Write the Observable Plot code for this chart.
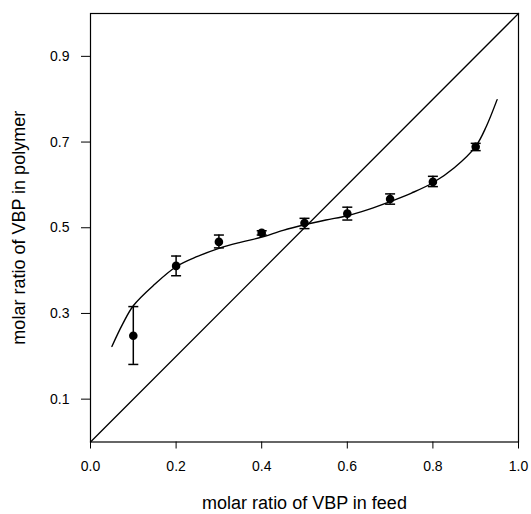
<!DOCTYPE html>
<html>
<head>
<meta charset="utf-8">
<script src="https://cdn.jsdelivr.net/npm/d3@7"></script>
<script src="https://cdn.jsdelivr.net/npm/@observablehq/plot@0.6"></script>
<style>
  html, body { margin: 0; padding: 0; background: #fff; }
</style>
</head>
<body>
<div id="chart"></div>
<script>
// Measured data
const feed     = [0.1, 0.2, 0.3, 0.4, 0.5, 0.6, 0.7, 0.8, 0.9];
const polymer  = [0.248, 0.411, 0.467, 0.488, 0.511, 0.533, 0.567, 0.607, 0.689];
const errLow   = [0.181, 0.388, 0.453, 0.483, 0.498, 0.518, 0.555, 0.596, 0.680];
const errHigh  = [0.316, 0.434, 0.483, 0.493, 0.522, 0.548, 0.579, 0.620, 0.697];

// Fitted curve
const fitFeed    = [0.05, 0.075, 0.10, 0.15, 0.20, 0.25, 0.30, 0.35, 0.40, 0.45, 0.50, 0.55, 0.60, 0.65, 0.70, 0.75, 0.80, 0.85, 0.90, 0.925, 0.95];
const fitPolymer = [0.223, 0.275, 0.318, 0.368, 0.409, 0.433, 0.452, 0.466, 0.478, 0.494, 0.507, 0.518, 0.528, 0.543, 0.561, 0.581, 0.605, 0.640, 0.690, 0.737, 0.799];

// Diagonal (y = x)
const diagonal = [0, 1];

// Tick labels
const xTicks = [0, 0.2, 0.4, 0.6, 0.8, 1.0];
const yTicks = [0.1, 0.3, 0.5, 0.7, 0.9];

const xLabel = "molar ratio of VBP in feed";
const yLabel = "molar ratio of VBP in polymer";

const points = feed.map((x, i) => ({x, y: polymer[i], lo: errLow[i], hi: errHigh[i]}));
const fit = fitFeed.map((x, i) => ({x, y: fitPolymer[i]}));

const capSymbol = {
  draw(context) {
    context.moveTo(-5, 0);
    context.lineTo(5, 0);
  }
};

const chart = Plot.plot({
  width: 531,
  height: 514,
  marginLeft: 90,
  marginRight: 13,
  marginTop: 13,
  marginBottom: 72.5,
  style: {fontFamily: "'Liberation Sans', Arial, sans-serif", fontSize: "14px", color: "black", background: "white"},
  x: {domain: [0, 1]},
  y: {domain: [0, 1]},
  marks: [
    Plot.axisX({ticks: xTicks, tickFormat: d3.format(".1f"), tickSize: 7, tickPadding: 12,
                label: xLabel, labelAnchor: "center", labelArrow: false, labelOffset: 67}),
    Plot.axisY({ticks: yTicks, tickFormat: d3.format(".1f"), tickSize: 9, tickPadding: 12,
                label: yLabel, labelAnchor: "center", labelArrow: false, labelOffset: 78}),
    Plot.line(diagonal, {x: d => d, y: d => d, stroke: "black", strokeWidth: 1.3}),
    Plot.line(fit, {x: "x", y: "y", curve: "catmull-rom", stroke: "black", strokeWidth: 1.4}),
    Plot.ruleX(points, {x: "x", y1: "lo", y2: "hi", stroke: "black", strokeWidth: 1.5}),
    Plot.dot(points, {x: "x", y: "lo", symbol: capSymbol, stroke: "black", strokeWidth: 1.5, fill: "none"}),
    Plot.dot(points, {x: "x", y: "hi", symbol: capSymbol, stroke: "black", strokeWidth: 1.5, fill: "none"}),
    Plot.dot(points, {x: "x", y: "y", r: 4.3, fill: "black", stroke: "none"}),
    Plot.frame({stroke: "black", strokeWidth: 1.2})
  ]
});

// Font sizes
chart.querySelectorAll("g[aria-label='x-axis tick label'], g[aria-label='y-axis tick label']").forEach(g => g.setAttribute("font-size", "14"));
chart.querySelectorAll("g[aria-label='x-axis label'], g[aria-label='y-axis label']").forEach(g => g.setAttribute("font-size", "18"));
chart.querySelectorAll("g[aria-label='x-axis label'] text, g[aria-label='y-axis label'] text").forEach(t => t.setAttribute("font-size", "18"));

document.getElementById("chart").appendChild(chart);
</script>
</body>
</html>
